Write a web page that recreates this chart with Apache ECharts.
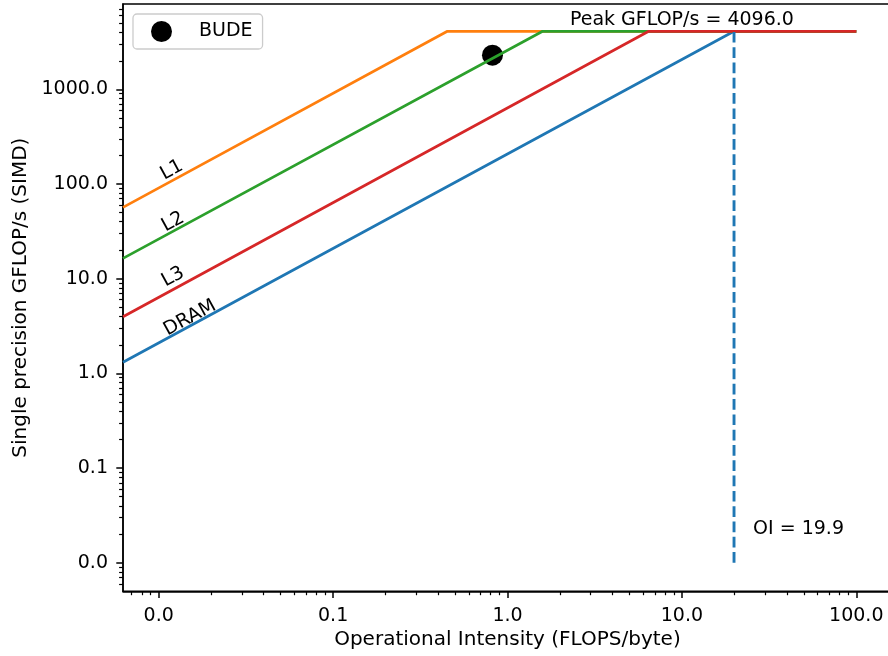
<!DOCTYPE html>
<html>
<head>
<meta charset="utf-8">
<script src="https://cdn.jsdelivr.net/npm/echarts@6/dist/echarts.min.js"></script>
<style>
  html, body { margin: 0; padding: 0; background: #fff; }
  #chart { width: 888px; height: 656px; }
</style>
</head>
<body>
<div id="chart"></div>
<script>
// roofline data
const roofNames = ['DRAM', 'L1', 'L2', 'L3']
const roofColors = ['#1f77b4', '#ff7f0e', '#2ca02c', '#d62728']
const roofStartOI = 0.00624
const roofStartGflops = [1.31, 56.6, 16.4, 3.96]
const ridgeOI = [19.9, 0.452, 1.59, 6.45]
const roofEndOI = 100
const peakGflops = 4096
const oiValue = 19.9
const oiLineBottom = 0.01
const budePoint = [0.82, 2290]
const roofLabelPos = [[0.0151, 3.84], [0.0119, 140], [0.0121, 39.6], [0.0121, 10.4]]
const peakLabelPos = [10, 5380]
const oiLabelPos = [25.6, 0.0227]

const xTicks = [0.01, 0.1, 1, 10, 100]
const yTicks = [0.01, 0.1, 1, 10, 100, 1000]

const FONT = 'DejaVu Sans'

// minor ticks at 2..9 of each decade
function minorTicks (lo, hi) {
  let out = []
  for (let e = -4; e <= 4; e++) {
    for (let m = 2; m <= 9; m++) {
      let v = m * Math.pow(10, e)
      if (v > lo && v < hi) out.push(v)
    }
  }
  return out
}

const X_MIN = 0.00624, X_MAX = 160
const Y_MIN = 0.005, Y_MAX = 7950

function makeAxis (min, max, ticks, minor, margin, extra) {
  const major = Object.assign({
    type: 'log',
    logBase: 10,
    min: min,
    max: max,
    splitLine: { show: false },
    axisLine: { show: true, lineStyle: { color: '#000', width: 1.5 } },
    axisTick: { show: true, customValues: ticks, length: 6.7, lineStyle: { color: '#000', width: 1.5 } },
    axisLabel: {
      customValues: ticks,
      formatter: (v) => Number(v).toFixed(1),
      margin: margin,
      color: '#000',
      fontSize: 19,
      fontFamily: FONT
    },
    nameTextStyle: { color: '#000', fontSize: 20, fontFamily: FONT }
  }, extra)
  const small = {
    type: 'log',
    logBase: 10,
    min: min,
    max: max,
    position: extra.position,
    splitLine: { show: false },
    axisLine: { show: false },
    axisLabel: { show: false },
    axisTick: { show: true, customValues: minor, length: 3.9, lineStyle: { color: '#000', width: 1.2 } }
  }
  return [major, small]
}

const chart = echarts.init(document.getElementById('chart'))

let series = [{
  name: 'BUDE',
  type: 'scatter',
  data: [budePoint],
  symbol: 'circle',
  symbolSize: 21,
  itemStyle: { color: '#000', opacity: 1 },
  z: 1
}]

roofNames.forEach((name, i) => {
  series.push({
    name: name,
    type: 'line',
    data: [[roofStartOI, roofStartGflops[i]], [ridgeOI[i], peakGflops], [roofEndOI, peakGflops]],
    showSymbol: false,
    symbol: 'none',
    lineStyle: { color: roofColors[i], width: 2.7 },
    z: 2
  })
})

series.push({
  name: 'OI',
  type: 'line',
  data: [[oiValue, oiLineBottom], [oiValue, peakGflops]],
  showSymbol: false,
  symbol: 'none',
  lineStyle: { color: roofColors[0], width: 2.9, type: [10.7, 4.6] },
  z: 2
})

const textLabel = {
  show: true,
  position: 'inside',
  formatter: '{b}',
  verticalAlign: 'middle',
  color: '#000',
  opacity: 1,
  textBorderWidth: 0,
  fontSize: 19,
  fontFamily: FONT
}

series.push({
  name: 'labels',
  type: 'scatter',
  symbolSize: 0,
  itemStyle: { color: '#000' },
  data: roofNames.map((n, i) => ({ name: n, value: roofLabelPos[i] })),
  label: Object.assign({}, textLabel, { rotate: 28.5, align: 'center' }),
  z: 3
})

series.push({
  name: 'notes',
  type: 'scatter',
  symbolSize: 0,
  itemStyle: { color: '#000' },
  data: [
    { name: 'Peak GFLOP/s = ' + peakGflops.toFixed(1), value: peakLabelPos, label: { align: 'center' } },
    { name: 'OI = ' + oiValue.toFixed(1), value: oiLabelPos, label: { align: 'left' } }
  ],
  label: textLabel,
  z: 3
})

chart.setOption({
  animation: false,
  grid: {
    left: 123,
    top: 4,
    width: 768.9,
    bottom: 64.7,
    outerBoundsMode: 'none',
    containLabel: false,
    show: true,
    borderColor: '#000',
    borderWidth: 1.5,
    backgroundColor: 'rgba(0,0,0,0)'
  },
  legend: {
    data: ['BUDE'],
    icon: 'circle',
    left: 133,
    top: 14,
    itemWidth: 21,
    itemHeight: 21,
    padding: [7, 10, 7, 18],
    borderColor: '#cccccc',
    borderWidth: 1.3,
    borderRadius: 4,
    backgroundColor: 'rgba(255,255,255,0.8)',
    textStyle: { color: '#000', fontSize: 19, fontFamily: FONT, padding: [0, 0, 0, 22] }
  },
  xAxis: makeAxis(X_MIN, X_MAX, xTicks, minorTicks(X_MIN, X_MAX), 15, {
    position: 'bottom',
    name: 'Operational Intensity (FLOPS/byte)',
    nameLocation: 'middle',
    nameGap: 32
  }),
  yAxis: makeAxis(Y_MIN, Y_MAX, yTicks, minorTicks(Y_MIN, Y_MAX), 15, {
    position: 'left',
    name: 'Single precision GFLOP/s (SIMD)',
    nameLocation: 'middle',
    nameGap: 92
  }),
  series: series
})
</script>
</body>
</html>
